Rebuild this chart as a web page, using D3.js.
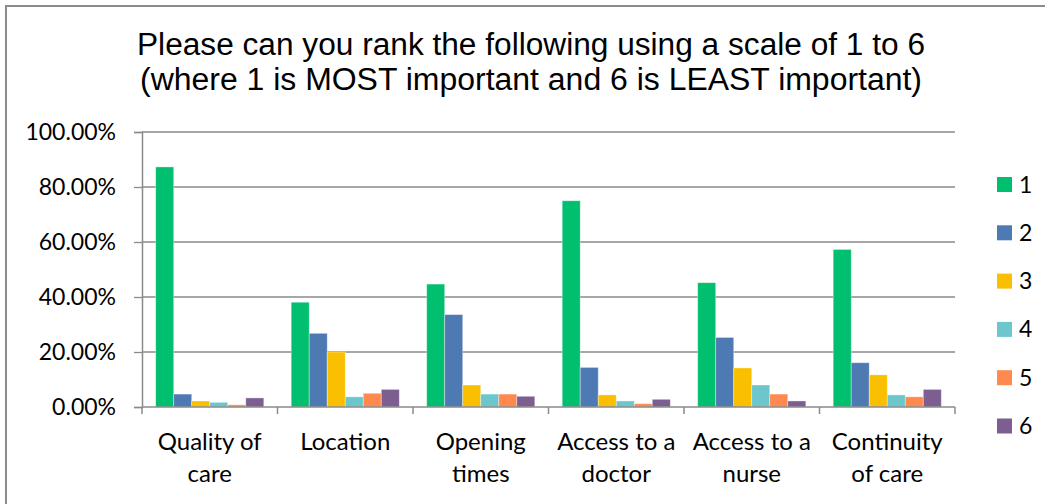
<!DOCTYPE html>
<html><head><meta charset="utf-8">
<script src="https://cdn.jsdelivr.net/npm/d3@7"></script>
<style>body{margin:0;background:#fff}svg{display:block}</style>
</head><body>
<svg id="c" width="1045" height="504"></svg>
<script>
const categories = [["Quality of","care"],["Location"],["Opening","times"],["Access to a","doctor"],["Access to a","nurse"],["Continuity","of care"]];
const seriesNames = ["1","2","3","4","5","6"];
const rank1 = [0.873,0.381,0.447,0.750,0.452,0.573];
const rank2 = [0.047,0.268,0.336,0.144,0.253,0.161];
const rank3 = [0.022,0.200,0.080,0.044,0.142,0.117];
const rank4 = [0.017,0.037,0.047,0.022,0.080,0.044];
const rank5 = [0.008,0.050,0.047,0.012,0.047,0.037];
const rank6 = [0.033,0.064,0.039,0.028,0.022,0.064];
const yTicks = [0,0.2,0.4,0.6,0.8,1.0];
const titleLines = ["Please can you rank the following using a scale of 1 to 6","(where 1 is MOST important and 6 is LEAST important)"];
const colors = ["#00BF6F","#4E7AB4","#F9BF00","#6BC7CC","#FF894F","#7D5E91"];
const series = [rank1,rank2,rank3,rank4,rank5,rank6];

const svg = d3.select("#c");
svg.append("rect").attr("x",6).attr("y",6).attr("width",1100).attr("height",600)
  .attr("fill","none").attr("stroke","#8c8c8c").attr("stroke-width",2);

const L=142,R=955,T=132,B=407;
const labelFont = "Lato, 'Open Sans', sans-serif";
const x0 = d3.scaleBand().domain(d3.range(categories.length)).range([L,R]).paddingInner(0).paddingOuter(0);
const x1 = d3.scaleBand().domain(d3.range(series.length)).range([0,x0.bandwidth()]).paddingOuter(0.76).paddingInner(0);
const y = d3.scaleLinear().domain([0,1]).range([B,T]);

// gridlines
svg.append("g").selectAll("line").data(yTicks.slice(1)).join("line")
  .attr("x1",L).attr("x2",R).attr("y1",d=>y(d)).attr("y2",d=>y(d))
  .attr("stroke","#8a8a8a").attr("stroke-width",1.3);

// bars
const g = svg.append("g");
categories.forEach((c,i)=>{
  series.forEach((s,j)=>{
    g.append("rect").attr("x",x0(i)+x1(j)).attr("width",x1.bandwidth())
      .attr("y",y(s[i])).attr("height",B-y(s[i]))
      .attr("fill",colors[j]).attr("stroke","rgba(255,255,255,0.45)").attr("stroke-width",0.8);
  });
});

// y axis
const ya = d3.axisLeft(y).tickValues(yTicks).tickFormat(d=>d3.format(".2f")(d*100)+"%").tickSize(8).tickPadding(18);
const yg = svg.append("g").attr("transform",`translate(${L},0)`).call(ya);
yg.select(".domain").attr("stroke","#8a8a8a").attr("stroke-width",1.5);
yg.selectAll(".tick line").attr("stroke","#8a8a8a").attr("stroke-width",1.3);
yg.selectAll("text").attr("font-family",labelFont).attr("font-size",23).attr("fill","#000");

// x axis
const xa = d3.scaleLinear().domain([0,categories.length]).range([L,R]);
const xg = svg.append("g").attr("transform",`translate(0,${B})`);
xg.append("line").attr("x1",L).attr("x2",R).attr("stroke","#8a8a8a").attr("stroke-width",1.5);
xg.selectAll("line.t").data(d3.range(categories.length+1)).join("line").attr("class","t")
  .attr("x1",d=>xa(d)).attr("x2",d=>xa(d)).attr("y1",0).attr("y2",7)
  .attr("stroke","#8a8a8a").attr("stroke-width",1.5);
categories.forEach((c,i)=>{
  const t = xg.append("text").attr("text-anchor","middle")
    .attr("font-family",labelFont).attr("font-size",24).attr("fill","#000");
  c.forEach((line,k)=>t.append("tspan").attr("x",x0(i)+x0.bandwidth()/2).attr("y",42.5+k*32).text(line));
});

// title
const title = svg.append("text").attr("text-anchor","middle").attr("font-family","'Liberation Sans', Arial, sans-serif")
  .attr("font-size",31).attr("fill","#000");
title.append("tspan").attr("x",531).attr("y",55).attr("textLength",788).attr("lengthAdjust","spacingAndGlyphs").text(titleLines[0]);
title.append("tspan").attr("x",531).attr("y",90).attr("textLength",782).attr("lengthAdjust","spacingAndGlyphs").text(titleLines[1]);

// legend
const lg = svg.append("g");
seriesNames.forEach((n,j)=>{
  const cy = 184.5 + j*48.3;
  lg.append("rect").attr("x",997).attr("y",cy-7.5).attr("width",15).attr("height",15).attr("fill",colors[j]);
  lg.append("text").attr("x",1019).attr("y",cy+8).attr("font-family",labelFont)
    .attr("font-size",23).attr("fill","#000").text(n);
});
</script>
</body></html>
